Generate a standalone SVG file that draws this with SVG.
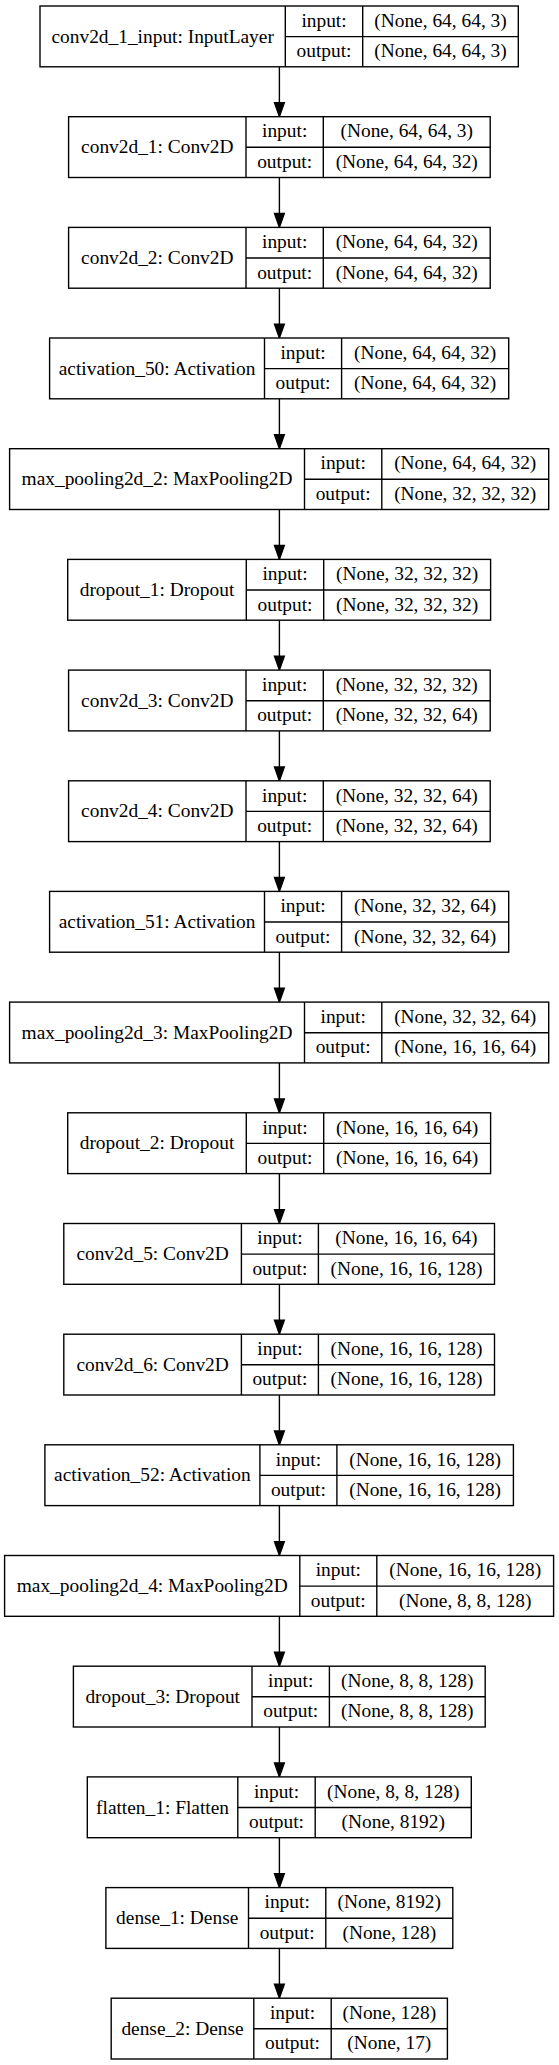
<svg xmlns="http://www.w3.org/2000/svg" width="559" height="2065" viewBox="0 0 559 2065">
<style>
.box{fill:#fff;stroke:#000;stroke-width:1.39}
.ln{stroke:#000;stroke-width:1.39;fill:none}
text{font-family:"Liberation Serif","Times New Roman",serif;font-size:19.4px;fill:#000;text-anchor:middle}
.edge{stroke:#000;stroke-width:1.39;fill:none}
.head{fill:#000;stroke:#000;stroke-width:1.39}
</style>
<rect width="559" height="2065" fill="#fff"/>
<g id="connectors">
<line class="edge" x1="279.4" y1="66.8" x2="279.4" y2="102.8"/><polygon class="head" points="274.5,102.8 284.3,102.8 279.4,116.7"/>
<line class="edge" x1="279.4" y1="177.5" x2="279.4" y2="213.5"/><polygon class="head" points="274.5,213.5 284.3,213.5 279.4,227.4"/>
<line class="edge" x1="279.4" y1="288.2" x2="279.4" y2="324.1"/><polygon class="head" points="274.5,324.1 284.3,324.1 279.4,338"/>
<line class="edge" x1="279.4" y1="398.8" x2="279.4" y2="434.8"/><polygon class="head" points="274.5,434.8 284.3,434.8 279.4,448.7"/>
<line class="edge" x1="279.4" y1="509.5" x2="279.4" y2="545.5"/><polygon class="head" points="274.5,545.5 284.3,545.5 279.4,559.4"/>
<line class="edge" x1="279.4" y1="620.2" x2="279.4" y2="656.2"/><polygon class="head" points="274.5,656.2 284.3,656.2 279.4,670.1"/>
<line class="edge" x1="279.4" y1="730.9" x2="279.4" y2="766.9"/><polygon class="head" points="274.5,766.9 284.3,766.9 279.4,780.8"/>
<line class="edge" x1="279.4" y1="841.6" x2="279.4" y2="877.5"/><polygon class="head" points="274.5,877.5 284.3,877.5 279.4,891.4"/>
<line class="edge" x1="279.4" y1="952.2" x2="279.4" y2="988.2"/><polygon class="head" points="274.5,988.2 284.3,988.2 279.4,1002.1"/>
<line class="edge" x1="279.4" y1="1062.9" x2="279.4" y2="1098.9"/><polygon class="head" points="274.5,1098.9 284.3,1098.9 279.4,1112.8"/>
<line class="edge" x1="279.4" y1="1173.6" x2="279.4" y2="1209.6"/><polygon class="head" points="274.5,1209.6 284.3,1209.6 279.4,1223.5"/>
<line class="edge" x1="279.4" y1="1284.3" x2="279.4" y2="1320.3"/><polygon class="head" points="274.5,1320.3 284.3,1320.3 279.4,1334.2"/>
<line class="edge" x1="279.4" y1="1395" x2="279.4" y2="1430.9"/><polygon class="head" points="274.5,1430.9 284.3,1430.9 279.4,1444.8"/>
<line class="edge" x1="279.4" y1="1505.6" x2="279.4" y2="1541.6"/><polygon class="head" points="274.5,1541.6 284.3,1541.6 279.4,1555.5"/>
<line class="edge" x1="279.4" y1="1616.3" x2="279.4" y2="1652.3"/><polygon class="head" points="274.5,1652.3 284.3,1652.3 279.4,1666.2"/>
<line class="edge" x1="279.4" y1="1727" x2="279.4" y2="1763"/><polygon class="head" points="274.5,1763 284.3,1763 279.4,1776.9"/>
<line class="edge" x1="279.4" y1="1837.7" x2="279.4" y2="1873.7"/><polygon class="head" points="274.5,1873.7 284.3,1873.7 279.4,1887.6"/>
<line class="edge" x1="279.4" y1="1948.4" x2="279.4" y2="1984.3"/><polygon class="head" points="274.5,1984.3 284.3,1984.3 279.4,1998.2"/>
</g>
<g id="conv2d_1_input" transform="translate(0,6)"><rect class="box" x="40" y="0" width="478.3" height="60.8"/><line class="ln" x1="285.3" y1="0" x2="285.3" y2="60.8"/><line class="ln" x1="362.7" y1="0" x2="362.7" y2="60.8"/><line class="ln" x1="285.3" y1="30.6" x2="518.3" y2="30.6"/><text x="162.65" y="36.7">conv2d_1_input: InputLayer</text><text x="324" y="20.8">input:</text><text x="324" y="51.2">output:</text><text x="440.5" y="20.8">(None, 64, 64, 3)</text><text x="440.5" y="51.2">(None, 64, 64, 3)</text></g>
<g id="conv2d_1" transform="translate(0,116.7)"><rect class="box" x="68.6" y="0" width="421.6" height="60.8"/><line class="ln" x1="246" y1="0" x2="246" y2="60.8"/><line class="ln" x1="323.3" y1="0" x2="323.3" y2="60.8"/><line class="ln" x1="246" y1="30.6" x2="490.2" y2="30.6"/><text x="157.3" y="36.7">conv2d_1: Conv2D</text><text x="284.65" y="20.8">input:</text><text x="284.65" y="51.2">output:</text><text x="406.75" y="20.8">(None, 64, 64, 3)</text><text x="406.75" y="51.2">(None, 64, 64, 32)</text></g>
<g id="conv2d_2" transform="translate(0,227.4)"><rect class="box" x="68.6" y="0" width="421.6" height="60.8"/><line class="ln" x1="246" y1="0" x2="246" y2="60.8"/><line class="ln" x1="323.3" y1="0" x2="323.3" y2="60.8"/><line class="ln" x1="246" y1="30.6" x2="490.2" y2="30.6"/><text x="157.3" y="36.7">conv2d_2: Conv2D</text><text x="284.65" y="20.8">input:</text><text x="284.65" y="51.2">output:</text><text x="406.75" y="20.8">(None, 64, 64, 32)</text><text x="406.75" y="51.2">(None, 64, 64, 32)</text></g>
<g id="activation_50" transform="translate(0,338)"><rect class="box" x="49.6" y="0" width="459.1" height="60.8"/><line class="ln" x1="264.5" y1="0" x2="264.5" y2="60.8"/><line class="ln" x1="341.6" y1="0" x2="341.6" y2="60.8"/><line class="ln" x1="264.5" y1="30.6" x2="508.7" y2="30.6"/><text x="157.05" y="36.7">activation_50: Activation</text><text x="303.05" y="20.8">input:</text><text x="303.05" y="51.2">output:</text><text x="425.15" y="20.8">(None, 64, 64, 32)</text><text x="425.15" y="51.2">(None, 64, 64, 32)</text></g>
<g id="max_pooling2d_2" transform="translate(0,448.7)"><rect class="box" x="9.6" y="0" width="539.1" height="60.8"/><line class="ln" x1="304.5" y1="0" x2="304.5" y2="60.8"/><line class="ln" x1="381.8" y1="0" x2="381.8" y2="60.8"/><line class="ln" x1="304.5" y1="30.6" x2="548.7" y2="30.6"/><text x="157.05" y="36.7">max_pooling2d_2: MaxPooling2D</text><text x="343.15" y="20.8">input:</text><text x="343.15" y="51.2">output:</text><text x="465.25" y="20.8">(None, 64, 64, 32)</text><text x="465.25" y="51.2">(None, 32, 32, 32)</text></g>
<g id="dropout_1" transform="translate(0,559.4)"><rect class="box" x="67.7" y="0" width="422.9" height="60.8"/><line class="ln" x1="246.3" y1="0" x2="246.3" y2="60.8"/><line class="ln" x1="323.7" y1="0" x2="323.7" y2="60.8"/><line class="ln" x1="246.3" y1="30.6" x2="490.6" y2="30.6"/><text x="157" y="36.7">dropout_1: Dropout</text><text x="285" y="20.8">input:</text><text x="285" y="51.2">output:</text><text x="407.15" y="20.8">(None, 32, 32, 32)</text><text x="407.15" y="51.2">(None, 32, 32, 32)</text></g>
<g id="conv2d_3" transform="translate(0,670.1)"><rect class="box" x="68.6" y="0" width="421.6" height="60.8"/><line class="ln" x1="246" y1="0" x2="246" y2="60.8"/><line class="ln" x1="323.3" y1="0" x2="323.3" y2="60.8"/><line class="ln" x1="246" y1="30.6" x2="490.2" y2="30.6"/><text x="157.3" y="36.7">conv2d_3: Conv2D</text><text x="284.65" y="20.8">input:</text><text x="284.65" y="51.2">output:</text><text x="406.75" y="20.8">(None, 32, 32, 32)</text><text x="406.75" y="51.2">(None, 32, 32, 64)</text></g>
<g id="conv2d_4" transform="translate(0,780.8)"><rect class="box" x="68.6" y="0" width="421.6" height="60.8"/><line class="ln" x1="246" y1="0" x2="246" y2="60.8"/><line class="ln" x1="323.3" y1="0" x2="323.3" y2="60.8"/><line class="ln" x1="246" y1="30.6" x2="490.2" y2="30.6"/><text x="157.3" y="36.7">conv2d_4: Conv2D</text><text x="284.65" y="20.8">input:</text><text x="284.65" y="51.2">output:</text><text x="406.75" y="20.8">(None, 32, 32, 64)</text><text x="406.75" y="51.2">(None, 32, 32, 64)</text></g>
<g id="activation_51" transform="translate(0,891.4)"><rect class="box" x="49.6" y="0" width="459.1" height="60.8"/><line class="ln" x1="264.5" y1="0" x2="264.5" y2="60.8"/><line class="ln" x1="341.6" y1="0" x2="341.6" y2="60.8"/><line class="ln" x1="264.5" y1="30.6" x2="508.7" y2="30.6"/><text x="157.05" y="36.7">activation_51: Activation</text><text x="303.05" y="20.8">input:</text><text x="303.05" y="51.2">output:</text><text x="425.15" y="20.8">(None, 32, 32, 64)</text><text x="425.15" y="51.2">(None, 32, 32, 64)</text></g>
<g id="max_pooling2d_3" transform="translate(0,1002.1)"><rect class="box" x="9.6" y="0" width="539.1" height="60.8"/><line class="ln" x1="304.5" y1="0" x2="304.5" y2="60.8"/><line class="ln" x1="381.8" y1="0" x2="381.8" y2="60.8"/><line class="ln" x1="304.5" y1="30.6" x2="548.7" y2="30.6"/><text x="157.05" y="36.7">max_pooling2d_3: MaxPooling2D</text><text x="343.15" y="20.8">input:</text><text x="343.15" y="51.2">output:</text><text x="465.25" y="20.8">(None, 32, 32, 64)</text><text x="465.25" y="51.2">(None, 16, 16, 64)</text></g>
<g id="dropout_2" transform="translate(0,1112.8)"><rect class="box" x="67.7" y="0" width="422.9" height="60.8"/><line class="ln" x1="246.3" y1="0" x2="246.3" y2="60.8"/><line class="ln" x1="323.7" y1="0" x2="323.7" y2="60.8"/><line class="ln" x1="246.3" y1="30.6" x2="490.6" y2="30.6"/><text x="157" y="36.7">dropout_2: Dropout</text><text x="285" y="20.8">input:</text><text x="285" y="51.2">output:</text><text x="407.15" y="20.8">(None, 16, 16, 64)</text><text x="407.15" y="51.2">(None, 16, 16, 64)</text></g>
<g id="conv2d_5" transform="translate(0,1223.5)"><rect class="box" x="63.8" y="0" width="430.7" height="60.8"/><line class="ln" x1="241.4" y1="0" x2="241.4" y2="60.8"/><line class="ln" x1="318.4" y1="0" x2="318.4" y2="60.8"/><line class="ln" x1="241.4" y1="30.6" x2="494.5" y2="30.6"/><text x="152.6" y="36.7">conv2d_5: Conv2D</text><text x="279.9" y="20.8">input:</text><text x="279.9" y="51.2">output:</text><text x="406.45" y="20.8">(None, 16, 16, 64)</text><text x="406.45" y="51.2">(None, 16, 16, 128)</text></g>
<g id="conv2d_6" transform="translate(0,1334.2)"><rect class="box" x="63.8" y="0" width="430.7" height="60.8"/><line class="ln" x1="241.4" y1="0" x2="241.4" y2="60.8"/><line class="ln" x1="318.4" y1="0" x2="318.4" y2="60.8"/><line class="ln" x1="241.4" y1="30.6" x2="494.5" y2="30.6"/><text x="152.6" y="36.7">conv2d_6: Conv2D</text><text x="279.9" y="20.8">input:</text><text x="279.9" y="51.2">output:</text><text x="406.45" y="20.8">(None, 16, 16, 128)</text><text x="406.45" y="51.2">(None, 16, 16, 128)</text></g>
<g id="activation_52" transform="translate(0,1444.8)"><rect class="box" x="44.9" y="0" width="468.5" height="60.8"/><line class="ln" x1="259.9" y1="0" x2="259.9" y2="60.8"/><line class="ln" x1="336.9" y1="0" x2="336.9" y2="60.8"/><line class="ln" x1="259.9" y1="30.6" x2="513.4" y2="30.6"/><text x="152.4" y="36.7">activation_52: Activation</text><text x="298.4" y="20.8">input:</text><text x="298.4" y="51.2">output:</text><text x="425.15" y="20.8">(None, 16, 16, 128)</text><text x="425.15" y="51.2">(None, 16, 16, 128)</text></g>
<g id="max_pooling2d_4" transform="translate(0,1555.5)"><rect class="box" x="4.6" y="0" width="549" height="60.8"/><line class="ln" x1="299.8" y1="0" x2="299.8" y2="60.8"/><line class="ln" x1="376.8" y1="0" x2="376.8" y2="60.8"/><line class="ln" x1="299.8" y1="30.6" x2="553.6" y2="30.6"/><text x="152.2" y="36.7">max_pooling2d_4: MaxPooling2D</text><text x="338.3" y="20.8">input:</text><text x="338.3" y="51.2">output:</text><text x="465.2" y="20.8">(None, 16, 16, 128)</text><text x="465.2" y="51.2">(None, 8, 8, 128)</text></g>
<g id="dropout_3" transform="translate(0,1666.2)"><rect class="box" x="73.4" y="0" width="411.8" height="60.8"/><line class="ln" x1="252" y1="0" x2="252" y2="60.8"/><line class="ln" x1="329.4" y1="0" x2="329.4" y2="60.8"/><line class="ln" x1="252" y1="30.6" x2="485.2" y2="30.6"/><text x="162.7" y="36.7">dropout_3: Dropout</text><text x="290.7" y="20.8">input:</text><text x="290.7" y="51.2">output:</text><text x="407.3" y="20.8">(None, 8, 8, 128)</text><text x="407.3" y="51.2">(None, 8, 8, 128)</text></g>
<g id="flatten_1" transform="translate(0,1776.9)"><rect class="box" x="87.3" y="0" width="384" height="60.8"/><line class="ln" x1="237.8" y1="0" x2="237.8" y2="60.8"/><line class="ln" x1="315.2" y1="0" x2="315.2" y2="60.8"/><line class="ln" x1="237.8" y1="30.6" x2="471.3" y2="30.6"/><text x="162.55" y="36.7">flatten_1: Flatten</text><text x="276.5" y="20.8">input:</text><text x="276.5" y="51.2">output:</text><text x="393.25" y="20.8">(None, 8, 8, 128)</text><text x="393.25" y="51.2">(None, 8192)</text></g>
<g id="dense_1" transform="translate(0,1887.6)"><rect class="box" x="105.9" y="0" width="346.9" height="60.8"/><line class="ln" x1="248.5" y1="0" x2="248.5" y2="60.8"/><line class="ln" x1="325.8" y1="0" x2="325.8" y2="60.8"/><line class="ln" x1="248.5" y1="30.6" x2="452.8" y2="30.6"/><text x="177.2" y="36.7">dense_1: Dense</text><text x="287.15" y="20.8">input:</text><text x="287.15" y="51.2">output:</text><text x="389.3" y="20.8">(None, 8192)</text><text x="389.3" y="51.2">(None, 128)</text></g>
<g id="dense_2" transform="translate(0,1998.2)"><rect class="box" x="111.2" y="0" width="336.2" height="60.8"/><line class="ln" x1="253.8" y1="0" x2="253.8" y2="60.8"/><line class="ln" x1="331.2" y1="0" x2="331.2" y2="60.8"/><line class="ln" x1="253.8" y1="30.6" x2="447.4" y2="30.6"/><text x="182.5" y="36.7">dense_2: Dense</text><text x="292.5" y="20.8">input:</text><text x="292.5" y="51.2">output:</text><text x="389.3" y="20.8">(None, 128)</text><text x="389.3" y="51.2">(None, 17)</text></g>
</svg>
